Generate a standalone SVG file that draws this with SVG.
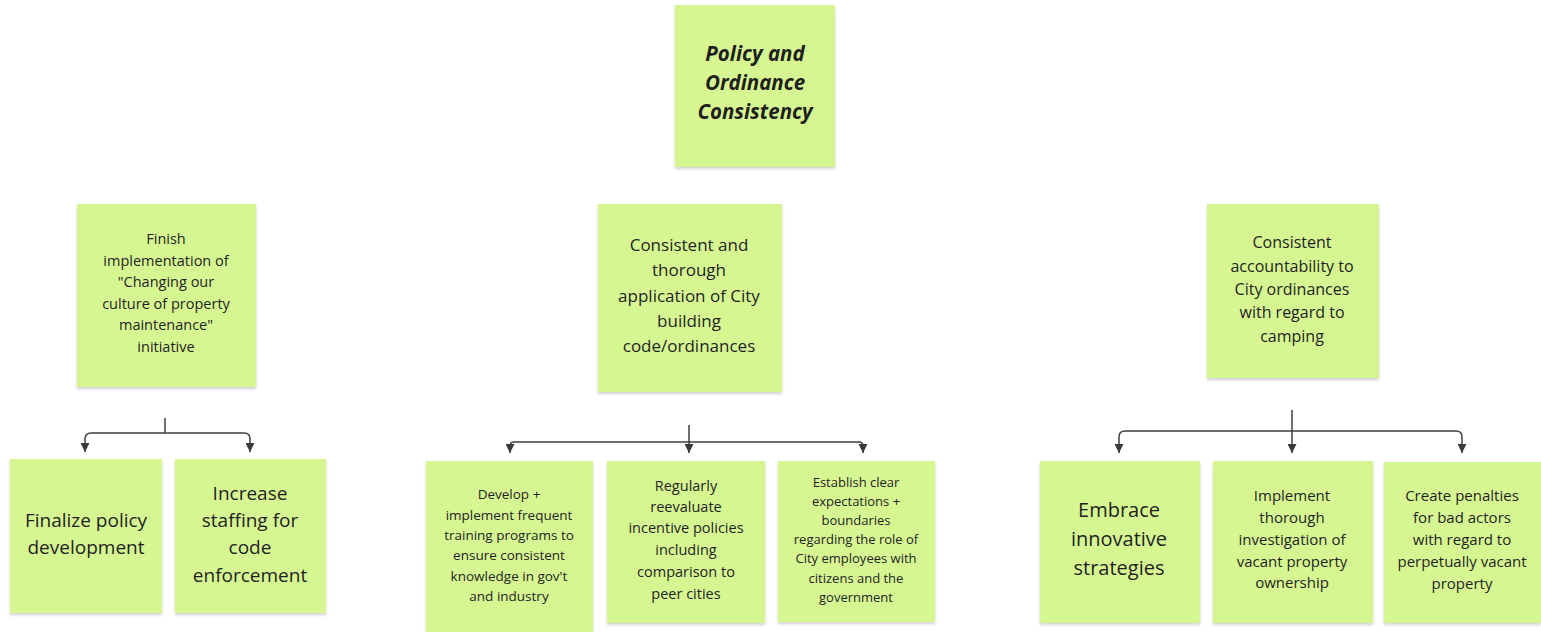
<svg xmlns="http://www.w3.org/2000/svg" width="1541" height="632" viewBox="0 0 1541 632">
<defs>
<filter id="sh" x="-10%" y="-10%" width="120%" height="125%">
<feDropShadow dx="0" dy="2" stdDeviation="1.5" flood-color="#000" flood-opacity="0.18"/>
</filter>
<marker id="ah" viewBox="0 0 10 10" refX="10" refY="5" markerWidth="9" markerHeight="9" markerUnits="userSpaceOnUse" orient="auto">
<path d="M0,0 L10,5 L0,10 Z" fill="#3a3a3a"/>
</marker>
<style>
.n{fill:#d6f692;filter:url(#sh)}
text{font-family:"Open Sans","Noto Sans","Liberation Sans",sans-serif;fill:#1f1f1f;text-anchor:middle}
.c{fill:none;stroke:#3f3f3f;stroke-width:1.5}
</style>
</defs>
<rect width="1541" height="632" fill="#fff"/>
<g id="connectors">
<path class="c" d="M165,418 V433"/>
<path class="c" d="M165,433 H91 Q85,433 85,439 V452" marker-end="url(#ah)"/>
<path class="c" d="M165,433 H244 Q250,433 250,439 V452" marker-end="url(#ah)"/>
<path class="c" d="M689,425 V453" marker-end="url(#ah)"/>
<path class="c" d="M689,442 H514 Q510,442 510,446 V453" marker-end="url(#ah)"/>
<path class="c" d="M689,442 H859 Q863,442 863,446 V453" marker-end="url(#ah)"/>
<path class="c" d="M1292,410 V453" marker-end="url(#ah)"/>
<path class="c" d="M1292,431 H1125 Q1119,431 1119,437 V453" marker-end="url(#ah)"/>
<path class="c" d="M1292,431 H1456 Q1462,431 1462,437 V453" marker-end="url(#ah)"/>
</g>
<g id="root">
<rect class="n" x="675" y="5" width="160" height="162"/>
<text font-size="20.5" font-weight="bold" font-style="italic"><tspan x="755" y="61">Policy and</tspan><tspan x="755" y="90">Ordinance</tspan><tspan x="755" y="119">Consistency</tspan></text>
</g>
<g id="finish">
<rect class="n" x="77" y="204" width="179" height="183"/>
<text font-size="14.5"><tspan x="166" y="244">Finish</tspan><tspan x="166" y="265.5">implementation of</tspan><tspan x="166" y="287">"Changing our</tspan><tspan x="166" y="308.5">culture of property</tspan><tspan x="166" y="330">maintenance"</tspan><tspan x="166" y="351.5">initiative</tspan></text>
</g>
<g id="thorough">
<rect class="n" x="598" y="204" width="184" height="188"/>
<text font-size="17"><tspan x="689" y="251">Consistent and</tspan><tspan x="689" y="276">thorough</tspan><tspan x="689" y="302">application of City</tspan><tspan x="689" y="327">building</tspan><tspan x="689" y="352">code/ordinances</tspan></text>
</g>
<g id="camping">
<rect class="n" x="1207" y="204" width="172" height="174"/>
<text font-size="16"><tspan x="1292" y="248">Consistent</tspan><tspan x="1292" y="272">accountability to</tspan><tspan x="1292" y="295">City ordinances</tspan><tspan x="1292" y="318">with regard to</tspan><tspan x="1292" y="342">camping</tspan></text>
</g>
<g id="finalize">
<rect class="n" x="10" y="459" width="152" height="154"/>
<text font-size="19"><tspan x="86" y="527">Finalize policy</tspan><tspan x="86" y="554">development</tspan></text>
</g>
<g id="staffing">
<rect class="n" x="175" y="459" width="151" height="154"/>
<text font-size="19"><tspan x="250" y="500">Increase</tspan><tspan x="250" y="527">staffing for</tspan><tspan x="250" y="554">code</tspan><tspan x="250" y="582">enforcement</tspan></text>
</g>
<g id="training">
<rect class="n" x="426" y="461" width="167" height="174"/>
<text font-size="13.5"><tspan x="509" y="499">Develop +</tspan><tspan x="509" y="520">implement frequent</tspan><tspan x="509" y="540">training programs to</tspan><tspan x="509" y="560">ensure consistent</tspan><tspan x="509" y="581">knowledge in gov't</tspan><tspan x="509" y="601">and industry</tspan></text>
</g>
<g id="incentive">
<rect class="n" x="607" y="461" width="158" height="162"/>
<text font-size="14.5"><tspan x="686" y="491">Regularly</tspan><tspan x="686" y="512">reevaluate</tspan><tspan x="686" y="533">incentive policies</tspan><tspan x="686" y="555">including</tspan><tspan x="686" y="577">comparison to</tspan><tspan x="686" y="599">peer cities</tspan></text>
</g>
<g id="expectations">
<rect class="n" x="778" y="461" width="157" height="161"/>
<text font-size="13"><tspan x="856" y="487">Establish clear</tspan><tspan x="856" y="506">expectations +</tspan><tspan x="856" y="525">boundaries</tspan><tspan x="856" y="544">regarding the role of</tspan><tspan x="856" y="563">City employees with</tspan><tspan x="856" y="583">citizens and the</tspan><tspan x="856" y="602">government</tspan></text>
</g>
<g id="embrace">
<rect class="n" x="1040" y="461" width="160" height="162"/>
<text font-size="20"><tspan x="1119" y="517">Embrace</tspan><tspan x="1119" y="546">innovative</tspan><tspan x="1119" y="575">strategies</tspan></text>
</g>
<g id="investigation">
<rect class="n" x="1213" y="461" width="160" height="162"/>
<text font-size="15"><tspan x="1292" y="501">Implement</tspan><tspan x="1292" y="523">thorough</tspan><tspan x="1292" y="545">investigation of</tspan><tspan x="1292" y="567">vacant property</tspan><tspan x="1292" y="588">ownership</tspan></text>
</g>
<g id="penalties">
<rect class="n" x="1384" y="462" width="157" height="161"/>
<text font-size="15"><tspan x="1462" y="501">Create penalties</tspan><tspan x="1462" y="523">for bad actors</tspan><tspan x="1462" y="545">with regard to</tspan><tspan x="1462" y="567">perpetually vacant</tspan><tspan x="1462" y="589">property</tspan></text>
</g>
</svg>
